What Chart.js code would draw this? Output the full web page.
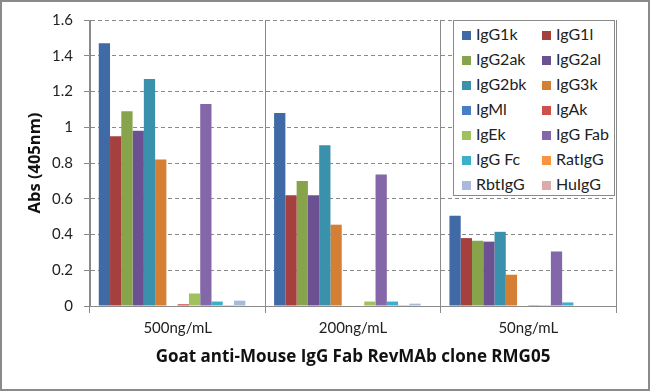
<!DOCTYPE html>
<html>
<head>
<meta charset="utf-8">
<script src="https://cdn.jsdelivr.net/npm/chart.js@4"></script>
<style>
  body { margin: 0; background: #fff; }
  #wrap { position: relative; width: 650px; height: 391px; }
  #frame { position: absolute; left: 0; top: 0; width: 646px; height: 387px; border: 2px solid #8a8a8a; pointer-events: none; }
  #legend {
    position: absolute; left: 453px; top: 20px; width: 162px; height: 176px;
    border: 1px solid #8a8a8a; background: #fff; box-sizing: border-box;
    font-family: Lato, "Open Sans", sans-serif; font-size: 16px; color: #222;
    padding: 1px 0 0 8px;
  }
  .item { position: absolute; height: 25px; line-height: 25px; white-space: nowrap; }
  .sw { display: inline-block; width: 9px; height: 9px; margin-right: 5px; vertical-align: 0px; }
</style>
</head>
<body>
<div id="wrap">
  <canvas id="chart" width="650" height="391"></canvas>
  <div id="legend"></div>
  <div id="frame"></div>
</div>
<script>
// concentrations on the x axis
const labels = ['500ng/mL', '200ng/mL', '50ng/mL'];

// one array per antibody: [500, 200, 50 ng/mL]
const IgG1k  = [1.47, 1.08, 0.505];
const IgG1l  = [0.95, 0.62, 0.38];
const IgG2ak = [1.09, 0.70, 0.365];
const IgG2al = [0.98, 0.62, 0.36];
const IgG2bk = [1.27, 0.90, 0.415];
const IgG3k  = [0.82, 0.455, 0.175];
const IgMl   = [0, 0, 0];
const IgAk   = [0.01, 0, 0.005];
const IgEk   = [0.07, 0.025, 0.005];
const IgGFab = [1.13, 0.735, 0.305];
const IgGFc  = [0.025, 0.025, 0.02];
const RatIgG = [0.005, 0.005, 0];
const RbtIgG = [0.03, 0.013, 0];
const HuIgG  = [0, 0, 0];

const series = [
  ['IgG1k', IgG1k, '#3f6aa5'],
  ['IgG1l', IgG1l, '#a5403e'],
  ['IgG2ak', IgG2ak, '#87a44c'],
  ['IgG2al', IgG2al, '#6b5192'],
  ['IgG2bk', IgG2bk, '#3a91ab'],
  ['IgG3k', IgG3k, '#d57f35'],
  ['IgMl', IgMl, '#4a7ec4'],
  ['IgAk', IgAk, '#cf4f4c'],
  ['IgEk', IgEk, '#9fc25d'],
  ['IgG Fab', IgGFab, '#8467a9'],
  ['IgG Fc', IgGFc, '#3cb0cb'],
  ['RatIgG', RatIgG, '#f6943f'],
  ['RbtIgG', RbtIgG, '#a9b8dc'],
  ['HuIgG', HuIgG, '#dcaaa9'],
];

const font = 'Lato, "Open Sans", sans-serif';
const titleFont = '"Open Sans", Lato, sans-serif';
const axisGray = '#8a8a8a';

new Chart(document.getElementById('chart'), {
  type: 'bar',
  data: {
    labels: labels,
    datasets: series.map(s => ({
      label: s[0],
      data: s[1],
      backgroundColor: s[2],
      borderWidth: 0,
      categoryPercentage: 0.9,
      barPercentage: 1.0,
    })),
  },
  options: {
    responsive: false,
    animation: false,
    layout: { padding: { top: 20, right: 34, left: 19, bottom: 21 } },
    plugins: {
      legend: { display: false },
      tooltip: { enabled: false },
    },
    scales: {
      x: {
        afterFit: s => { s.height = 64; },
        grid: { offset: true, color: axisGray, tickColor: axisGray, tickLength: 7, lineWidth: 1 },
        border: { color: axisGray, width: 1 },
        ticks: { color: '#222', padding: 6, font: { family: font, size: 15 } },
        title: {
          display: true,
          text: 'Goat anti-Mouse IgG Fab RevMAb clone RMG05',
          color: '#111',
          padding: { top: 3, bottom: 3 },
          font: { family: titleFont, size: 17, weight: 'bold' },
        },
      },
      y: {
        min: 0,
        max: 1.6,
        afterFit: s => { s.width = 71; },
        grid: { color: axisGray, tickColor: axisGray, tickLength: 6, tickBorderDash: [] },
        border: { color: axisGray, width: 1, dash: [4, 3] },
        ticks: { stepSize: 0.2, color: '#222', padding: 11, font: { family: font, size: 15 },
          callback: v => String(Math.round(v * 10) / 10) },
        title: {
          display: true,
          text: 'Abs (405nm)',
          color: '#111',
          padding: { top: 6, bottom: 2 },
          font: { family: titleFont, size: 16.5, weight: 'bold' },
        },
      },
    },
  },
});

// two-column legend box inside the plot, like the original
const legend = document.getElementById('legend');
series.forEach((s, i) => {
  const el = document.createElement('div');
  el.className = 'item';
  el.style.left = (i % 2 === 0 ? 8 : 88) + 'px';
  el.style.top = (Math.floor(i / 2) * 25) + 'px';
  el.innerHTML = '<span class="sw" style="background:' + s[2] + '"></span>' + s[0];
  legend.appendChild(el);
});
</script>
</body>
</html>
